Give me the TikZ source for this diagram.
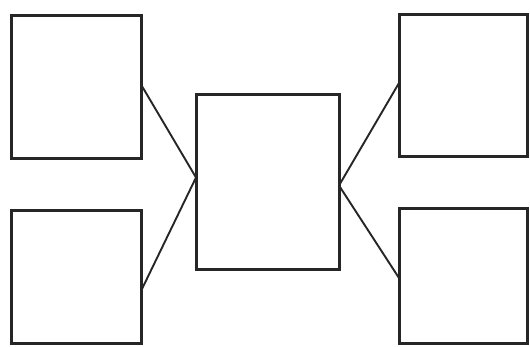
\documentclass[tikz,border=0pt]{standalone}
\begin{document}
\begin{tikzpicture}[x=1pt,y=-1pt,
  boxnode/.style={draw=black!85, line width=3pt, minimum width=130pt, inner sep=0pt, outer sep=0pt, fill=white},
  link/.style={draw=black!85, line width=1.9pt}]
\useasboundingbox (0,0) rectangle (530,347);
\fill[white] (0,0) rectangle (530,347);
\node[boxnode, minimum height=143pt] (tl) at (76,87.5) {};
\node[boxnode, minimum height=133pt] (bl) at (76,277) {};
\node[boxnode, minimum width=143pt, minimum height=175pt] (c) at (267.5,182.5) {};
\node[boxnode, minimum width=128pt, minimum height=142pt] (tr) at (463,86) {};
\node[boxnode, minimum width=128pt, minimum height=135pt] (br) at (463,276) {};
\coordinate (cin) at ([yshift=5pt]c.west);
\coordinate (cout) at ([yshift=-3pt]c.east);
\draw[link] ([yshift=3pt]tl.east) -- (cin);
\draw[link] ([yshift=-14pt]bl.east) -- (cin);
\draw[link] (cout) -- ([yshift=3pt]tr.west);
\draw[link] (cout) -- ([yshift=-2pt]br.west);
\end{tikzpicture}
\end{document}
